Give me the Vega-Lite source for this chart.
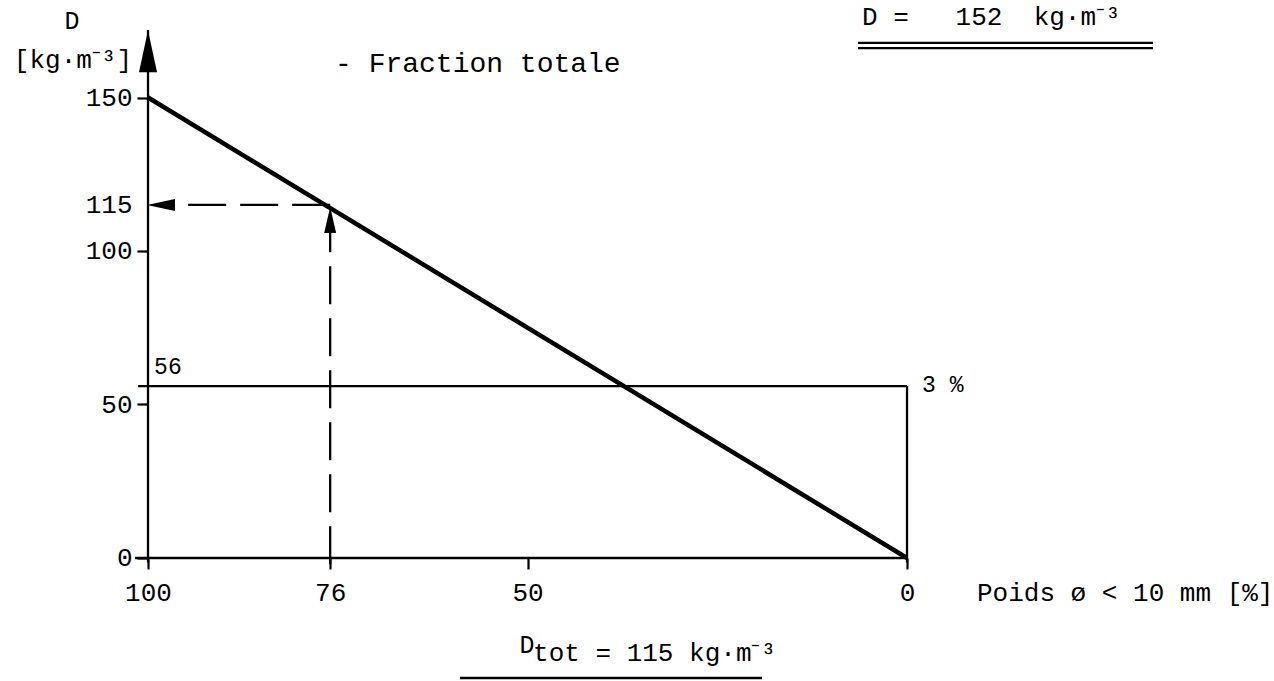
{
  "$schema": "https://vega.github.io/schema/vega-lite/v6.json",
  "width": 1274,
  "height": 681,
  "autosize": {"type": "none"},
  "padding": 0,
  "background": "white",
  "config": {"view": {"stroke": null}, "font": "Liberation Mono"},
  "encoding": {
    "x": {
      "field": "x", "type": "quantitative",
      "scale": {"domain": [119.5, -48.35], "nice": false, "zero": false},
      "axis": {
        "values": [100, 76, 50, 0], "offset": -123, "domain": false, "grid": false, "title": null,
        "tickSize": 11, "tickWidth": 2.2, "tickColor": "black", "labelPadding": 10,
        "labelFontSize": 26, "labelColor": "black", "labelFont": "Liberation Mono", "labelFlush": false, "labelOverlap": false
      }
    },
    "y": {
      "field": "y", "type": "quantitative",
      "scale": {"domain": [-40.07, 181.76], "nice": false, "zero": false},
      "axis": {
        "values": [0, 50, 100, 115, 150], "offset": -148, "domain": false, "grid": false, "title": null,
        "tickSize": 11, "tickWidth": 2.2,
        "tickColor": {"condition": {"test": "datum.value === 115", "value": "transparent"}, "value": "black"},
        "labelPadding": 5, "labelFontSize": 26, "labelColor": "black", "labelFont": "Liberation Mono", "labelFlush": false, "labelOverlap": false
      }
    }
  },
  "layer": [
    {
      "data": {"values": [{"x": 100, "y": 150}, {"x": 0, "y": 0}]},
      "mark": {"type": "line", "color": "black", "strokeWidth": 4.5}
    },
    {
      "data": {"values": [
        {"x": 101.7, "y": 0, "x2": 0, "y2": 0},
        {"x": 100, "y": -1.5, "x2": 100, "y2": 172},
        {"x": 101.3, "y": 56, "x2": 0, "y2": 56},
        {"x": 0, "y": -1.5, "x2": 0, "y2": 56},
        {"x": 6.46, "y": 167.8, "x2": -32.4, "y2": 167.8},
        {"x": 6.46, "y": 166.1, "x2": -32.4, "y2": 166.1},
        {"x": 58.9, "y": -39.1, "x2": 19.1, "y2": -39.1}
      ]},
      "mark": {"type": "rule", "color": "black", "strokeWidth": 2.3},
      "encoding": {"x2": {"field": "x2"}, "y2": {"field": "y2"}}
    },
    {
      "data": {"values": [
        {"x": 76, "y": 115, "x2": 96.44, "y2": 115},
        {"x": 76, "y": -2, "x2": 76, "y2": 105.9}
      ]},
      "mark": {"type": "rule", "color": "black", "strokeWidth": 2.3, "strokeDash": [38, 14]},
      "encoding": {"x2": {"field": "x2"}, "y2": {"field": "y2"}}
    },
    {
      "data": {"values": [{"x": 100, "y": 165.1}]},
      "mark": {"type": "point", "shape": "M0,-1L0.43,1L-0.43,1Z", "size": 1764, "filled": true, "color": "black", "opacity": 1, "strokeWidth": 0}
    },
    {
      "data": {"values": [{"x": 98.29, "y": 115}]},
      "mark": {"type": "point", "shape": "M-1,0L1,-0.43L1,0.43Z", "size": 784, "filled": true, "color": "black", "opacity": 1, "strokeWidth": 0}
    },
    {
      "data": {"values": [{"x": 76, "y": 110.1}]},
      "mark": {"type": "point", "shape": "M0,-1L0.46,1L-0.46,1Z", "size": 676, "filled": true, "color": "black", "opacity": 1, "strokeWidth": 0}
    },
    {
      "data": {"values": [
        {"x": 5.93, "y": 176.2, "label": "D\u00a0=\u00a0\u00a0\u00a0152\u00a0\u00a0kg·m⁻³"},
        {"x": -9.22, "y": -11.4, "label": "Poids ø < 10 mm [%]"},
        {"x": 49.27, "y": -31.1, "label": "tot = 115 kg·m⁻³"}
      ]},
      "mark": {"type": "text", "align": "left", "baseline": "middle", "fontSize": 26, "color": "black", "font": "Liberation Mono"},
      "encoding": {"text": {"field": "label"}}
    },
    {
      "data": {"values": [
        {"x": 75.36, "y": 160.9, "label": "- Fraction totale"}
      ]},
      "mark": {"type": "text", "align": "left", "baseline": "middle", "fontSize": 28, "color": "black", "font": "Liberation Mono"},
      "encoding": {"text": {"field": "label"}}
    },
    {
      "data": {"values": [
        {"x": 99.2, "y": 62.2, "label": "56"},
        {"x": -1.98, "y": 56.4, "label": "3 %"}
      ]},
      "mark": {"type": "text", "align": "left", "baseline": "middle", "fontSize": 23, "color": "black", "font": "Liberation Mono"},
      "encoding": {"text": {"field": "label"}}
    },
    {
      "data": {"values": [{"x": 102.1, "y": 162.2, "label": "[kg·m⁻³]"}]},
      "mark": {"type": "text", "align": "right", "baseline": "middle", "fontSize": 26, "color": "black", "font": "Liberation Mono"},
      "encoding": {"text": {"field": "label"}}
    },
    {
      "data": {"values": [
        {"x": 110.0, "y": 174.9, "label": "D"},
        {"x": 50.07, "y": -28.2, "label": "D"}
      ]},
      "mark": {"type": "text", "align": "center", "baseline": "middle", "fontSize": 25, "color": "black", "font": "Liberation Mono"},
      "encoding": {"text": {"field": "label"}}
    }
  ]
}
